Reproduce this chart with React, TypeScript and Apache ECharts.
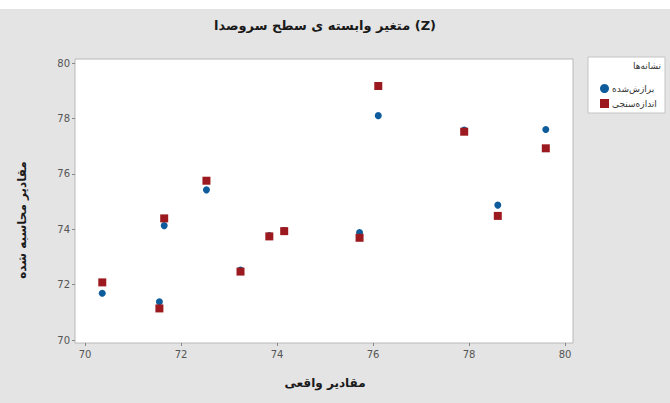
import React, { useEffect, useRef } from "react";
import * as echarts from "echarts";

const titleText = "متغیر وابسته ی سطح سروصدا (Z)";
const xAxisName = "مقادیر واقعی";
const yAxisName = "مقادیر محاسبه شده";
const legendTitle = "نشانه‌ها";
const seriesNames = ["برازش‌شده", "اندازه‌سنجی"];

const actual = [70.36, 71.55, 71.65, 72.53, 73.24, 73.84, 74.15, 75.72, 76.11, 77.9, 78.6, 79.6];
const fitted = [71.69, 71.38, 74.13, 75.42, 72.53, 73.77, 73.95, 73.88, 78.1, 77.58, 74.87, 77.6];
const measured = [72.08, 71.14, 74.39, 75.75, 72.47, 73.74, 73.93, 73.69, 79.17, 77.52, 74.48, 76.92];

const xTicks = [70, 72, 74, 76, 78, 80];
const yTicks = [70, 72, 74, 76, 78, 80];

const FONT = "'DejaVu Sans', sans-serif";

export default function App() {
  const ref = useRef<HTMLDivElement>(null);
  useEffect(() => {
    if (!ref.current) return;
    const chart = echarts.init(ref.current, undefined, { renderer: "svg" });
    chart.setOption({
      animation: false,
      backgroundColor: "#e4e4e4",
      textStyle: { fontFamily: FONT },
      graphic: [
        { type: "rect", shape: { x: 0, y: 0, width: 670, height: 9 }, style: { fill: "#ffffff" }, z: -10 },
        {
          type: "rect",
          shape: { x: 75, y: 59, width: 498, height: 284 },
          style: { fill: "#ffffff", stroke: "#b8b8b8", lineWidth: 1 },
          z: -5,
        },
        {
          type: "text",
          x: 325,
          y: 25,
          style: { text: titleText, font: "bold 13px " + FONT, fill: "#1a1a1a", align: "center", verticalAlign: "middle" },
        },
        {
          type: "text",
          x: 325,
          y: 383,
          style: { text: xAxisName, font: "bold 12px " + FONT, fill: "#1a1a1a", align: "center", verticalAlign: "middle" },
        },
        {
          type: "text",
          x: 22,
          y: 220,
          rotation: Math.PI / 2,
          style: { text: yAxisName, font: "bold 12px " + FONT, fill: "#1a1a1a", align: "center", verticalAlign: "middle" },
        },
        {
          type: "rect",
          shape: { x: 588, y: 57, width: 77, height: 56 },
          style: { fill: "#ffffff", stroke: "#c4c4c4", lineWidth: 1 },
        },
        {
          type: "text",
          x: 661,
          y: 66,
          style: { text: legendTitle, font: "9px " + FONT, fill: "#333", align: "right", verticalAlign: "middle" },
        },
      ],
      legend: {
        orient: "vertical",
        left: 595,
        top: 79,
        itemWidth: 9,
        itemHeight: 9,
        itemGap: 6,
        textStyle: { fontSize: 9, color: "#333", fontFamily: FONT, padding: [0, 0, 0, -2] },
        data: [
          { name: seriesNames[0], icon: "circle" },
          { name: seriesNames[1], icon: "rect" },
        ],
      },
      grid: { left: 85, right: 670 - 565, top: 63, bottom: 403 - 340, containLabel: false },
      xAxis: {
        type: "value",
        min: 70,
        max: 80,
        interval: 2,
        offset: 3,
        axisLine: { show: false },
        axisTick: { show: true, length: 3, lineStyle: { color: "#888" } },
        splitLine: { show: false },
        axisLabel: {
          color: "#555",
          fontSize: 10,
          fontFamily: FONT,
          margin: 6,
          customValues: xTicks,
        },
      },
      yAxis: {
        type: "value",
        min: 70,
        max: 80,
        interval: 2,
        offset: 10,
        axisLine: { show: false },
        axisTick: { show: true, length: 3, lineStyle: { color: "#888" } },
        splitLine: { show: false },
        axisLabel: {
          color: "#555",
          fontSize: 10,
          fontFamily: FONT,
          margin: 5,
          customValues: yTicks,
        },
      },
      series: [
        {
          name: seriesNames[0],
          type: "scatter",
          symbol: "circle",
          symbolSize: 7,
          itemStyle: { color: "#0e5c9c", opacity: 1 },
          data: actual.map((x, i) => [x, fitted[i]]),
        },
        {
          name: seriesNames[1],
          type: "scatter",
          symbol: "rect",
          symbolSize: 8,
          itemStyle: { color: "#9c1a1f", opacity: 1 },
          data: actual.map((x, i) => [x, measured[i]]),
        },
      ],
    });
    return () => chart.dispose();
  }, []);
  return (
    <div
      ref={ref}
      style={{ position: "fixed", left: 0, top: 0, width: 670, height: 403 }}
    />
  );
}
